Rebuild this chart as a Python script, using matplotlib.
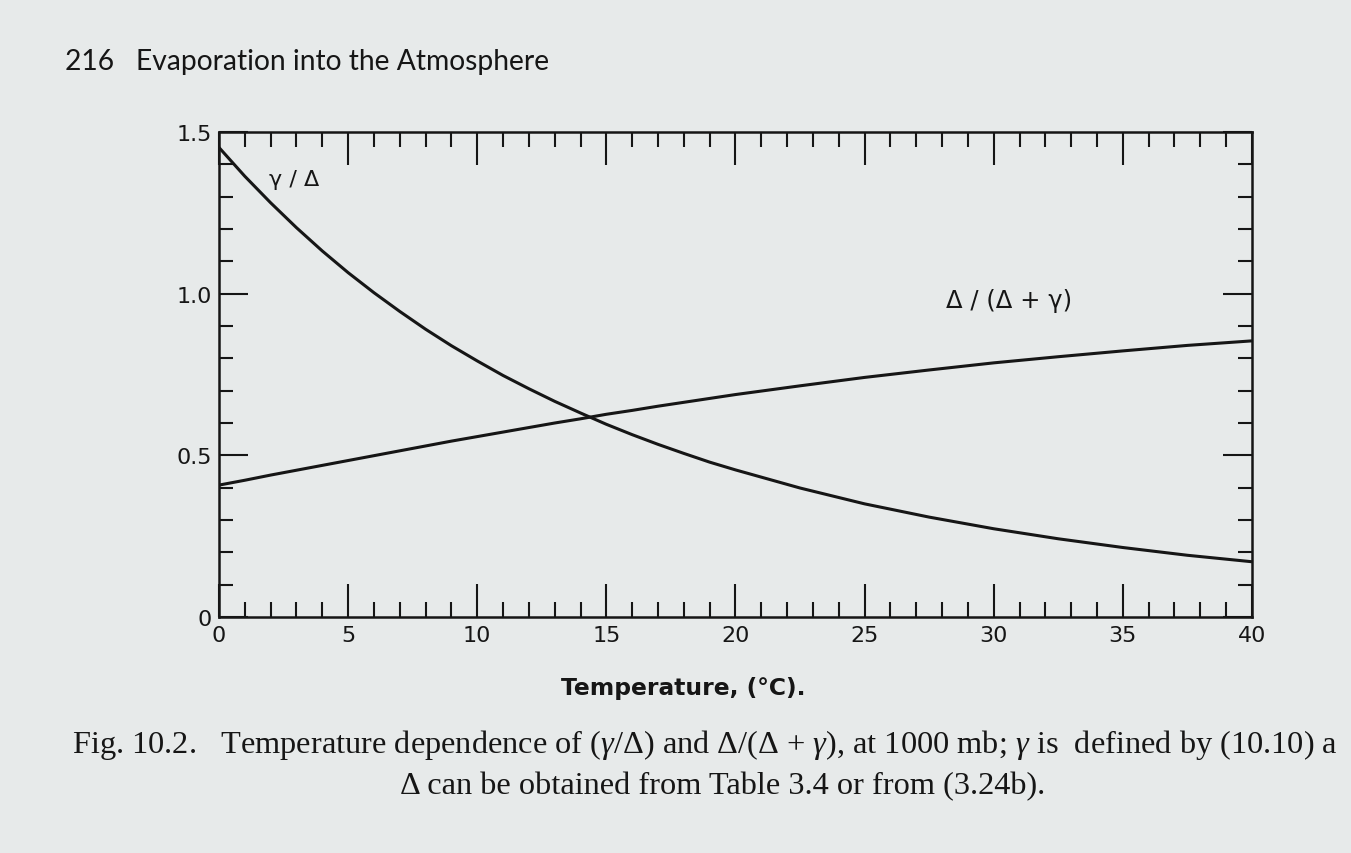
import matplotlib
matplotlib.use("Agg")
import matplotlib.pyplot as plt
from matplotlib.ticker import MultipleLocator, FixedLocator

# ---- data ----
temperature = [0, 1, 2, 3, 4, 5, 6, 7, 8, 9, 10, 11, 12, 13, 14, 15, 16, 17, 18, 19, 20,
               22.5, 25, 27.5, 30, 32.5, 35, 37.5, 40]
gamma_over_delta = [1.452, 1.363, 1.281, 1.204, 1.132, 1.065, 1.003, 0.945, 0.890, 0.839, 0.792,
                    0.747, 0.706, 0.667, 0.631, 0.596, 0.564, 0.534, 0.506, 0.479, 0.455,
                    0.399, 0.350, 0.309, 0.273, 0.242, 0.215, 0.191, 0.171]
delta_over_sum = [0.408, 0.423, 0.439, 0.454, 0.469, 0.484, 0.499, 0.514, 0.529, 0.544, 0.558,
                  0.572, 0.586, 0.600, 0.613, 0.627, 0.639, 0.652, 0.664, 0.676, 0.688,
                  0.715, 0.741, 0.764, 0.786, 0.805, 0.823, 0.840, 0.854]
x_tick_labels = ["0", "5", "10", "15", "20", "25", "30", "35", "40"]
x_tick_values = [0, 5, 10, 15, 20, 25, 30, 35, 40]
y_tick_labels = ["0", "0.5", "1.0", "1.5"]
y_tick_values = [0, 0.5, 1.0, 1.5]

plt.rcParams['mathtext.fontset'] = 'custom'
plt.rcParams['mathtext.rm'] = 'Liberation Serif'
plt.rcParams['mathtext.it'] = 'Liberation Serif:italic'

BG = '#e7eaea'
INK = '#161616'

fig = plt.figure(figsize=(13.51, 8.54), dpi=100, facecolor=BG)
ax = fig.add_axes([0.1621, 0.2763, 0.7646, 0.568])
ax.set_facecolor(BG)

ax.plot(temperature, gamma_over_delta, color=INK, lw=2.2, solid_capstyle='butt')
ax.plot(temperature, delta_over_sum, color=INK, lw=2.2, solid_capstyle='butt')

ax.set_xlim(0, 40)
ax.set_ylim(0, 1.5)

for s in ax.spines.values():
    s.set_linewidth(1.8)
    s.set_color(INK)

ax.xaxis.set_major_locator(FixedLocator(x_tick_values))
ax.set_xticklabels(x_tick_labels)
ax.xaxis.set_minor_locator(MultipleLocator(1))
ax.yaxis.set_major_locator(FixedLocator(y_tick_values))
ax.set_yticklabels(y_tick_labels)
ax.yaxis.set_minor_locator(MultipleLocator(0.1))

ax.tick_params(axis='x', which='major', direction='in', length=24, width=1.5,
               top=True, bottom=True, labelsize=16, pad=6, colors=INK)
ax.tick_params(axis='x', which='minor', direction='in', length=11, width=1.5,
               top=True, bottom=True, colors=INK)
ax.tick_params(axis='y', which='major', direction='in', length=21, width=1.5,
               left=True, right=True, labelsize=16, pad=5, colors=INK)
ax.tick_params(axis='y', which='minor', direction='in', length=10, width=1.5,
               left=True, right=True, colors=INK)
for lab in ax.get_xticklabels() + ax.get_yticklabels():
    lab.set_family('DejaVu Sans')

ax.text(2.9, 1.355, "γ / Δ", fontsize=16, ha='center', va='center', color=INK,
        family='DejaVu Sans')
ax.text(30.6, 0.98, "Δ / (Δ + γ)", fontsize=17.5, ha='center', va='center', color=INK,
        family='DejaVu Sans')

# x-axis title placed like the book
fig.text(683 / 1351, 1 - 689 / 854, "Temperature, (°C).", fontsize=16.8, fontweight='bold',
         ha='center', va='center', color=INK, family='DejaVu Sans Condensed')

# page header
fig.text(65 / 1351, 1 - 62 / 854, "216   Evaporation into the Atmosphere", fontsize=20.3,
         ha='left', va='center', color=INK, family='Lato')

# caption (the scanned page cuts the first line after "(10.10) a")
fig.text(72 / 1351, 1 - 745 / 854,
         "Fig. 10.2.   Temperature dependence of ($\\gamma$/Δ) and Δ/(Δ + $\\gamma$), at 1000 mb; $\\gamma$ is  defined by (10.10) a",
         fontsize=23.3, ha='left', va='center', color=INK, family='Liberation Serif')
fig.text(723 / 1351, 1 - 787 / 854,
         "Δ can be obtained from Table 3.4 or from (3.24b).",
         fontsize=23.3, ha='center', va='center', color=INK, family='Liberation Serif')

fig.savefig("out.png", dpi=100, facecolor=BG)
